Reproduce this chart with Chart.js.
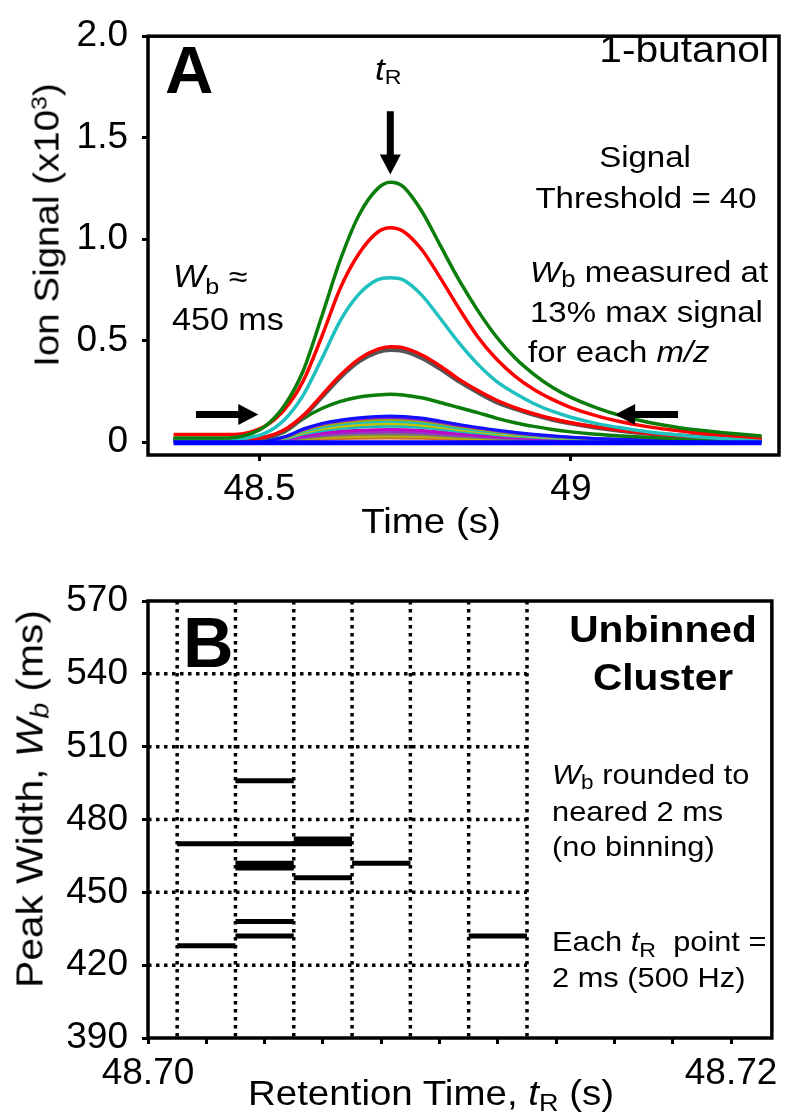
<!DOCTYPE html>
<html><head><meta charset="utf-8">
<script src="https://cdn.jsdelivr.net/npm/chart.js@4.4.1/dist/chart.umd.min.js"></script>
<style>
html,body{margin:0;padding:0;background:#fff;}
body{width:786px;height:1118px;position:relative;overflow:hidden;font-family:"Liberation Sans",Arial,sans-serif;color:#000;}
.box{position:absolute;left:0;width:786px;}
.t{position:absolute;white-space:nowrap;line-height:1;}
.sb{line-height:0;}
</style></head><body>
<div class="box" style="top:0;height:545px"><canvas id="ca"></canvas></div>
<div class="box" style="top:560px;height:558px"><canvas id="cb"></canvas></div>
<script>
// ---------- Panel A data (Ion signal, x10^3) ----------
const timeA = [48.362, 48.45, 48.48, 48.51, 48.54, 48.57, 48.60, 48.63, 48.66, 48.69, 48.71, 48.73, 48.76, 48.79, 48.82, 48.85, 48.88, 48.91, 48.94, 48.97, 49.00, 49.04, 49.08, 49.12, 49.16, 49.20, 49.25, 49.306];
const greenTop = [0.02, 0.02, 0.035, 0.08, 0.18, 0.35, 0.62, 0.90, 1.12, 1.25, 1.28, 1.26, 1.14, 0.97, 0.80, 0.65, 0.52, 0.415, 0.335, 0.27, 0.22, 0.17, 0.13, 0.10, 0.078, 0.06, 0.045, 0.03];
const redTop = [0.037, 0.037, 0.045, 0.08, 0.16, 0.30, 0.52, 0.76, 0.93, 1.035, 1.056, 1.04, 0.95, 0.81, 0.66, 0.52, 0.41, 0.325, 0.26, 0.21, 0.17, 0.13, 0.10, 0.077, 0.06, 0.046, 0.033, 0.02];
const cyanTop = [0.015, 0.015, 0.02, 0.045, 0.11, 0.23, 0.41, 0.60, 0.73, 0.80, 0.81, 0.80, 0.725, 0.61, 0.49, 0.385, 0.30, 0.24, 0.19, 0.152, 0.122, 0.092, 0.07, 0.052, 0.038, 0.027, 0.016, 0.007];
const redMid = [0.015, 0.015, 0.015, 0.025, 0.06, 0.13, 0.23, 0.33, 0.41, 0.458, 0.47, 0.465, 0.43, 0.375, 0.31, 0.255, 0.207, 0.17, 0.14, 0.115, 0.095, 0.075, 0.058, 0.045, 0.035, 0.028, 0.022, 0.018];
const grayMid = [0.012, 0.012, 0.012, 0.022, 0.056, 0.124, 0.222, 0.32, 0.398, 0.444, 0.455, 0.45, 0.416, 0.362, 0.30, 0.246, 0.198, 0.164, 0.135, 0.111, 0.092, 0.072, 0.056, 0.043, 0.034, 0.027, 0.021, 0.017];
const greenMid = [0.015, 0.015, 0.015, 0.02, 0.05, 0.115, 0.165, 0.20, 0.222, 0.232, 0.235, 0.232, 0.218, 0.195, 0.17, 0.145, 0.118, 0.095, 0.077, 0.062, 0.05, 0.038, 0.03, 0.024, 0.019, 0.015, 0.012, 0.01];

const timeSmall = [48.362, 48.51, 48.54, 48.57, 48.60, 48.63, 48.66, 48.71, 48.76, 48.82, 48.88, 48.94, 49.00, 49.10, 49.306];
const blueSmall = [0.005, 0.008, 0.026, 0.064, 0.092, 0.109, 0.12, 0.128, 0.118, 0.087, 0.059, 0.038, 0.024, 0.012, 0.005];
const purpleSmall = [0.005, 0.008, 0.024, 0.06, 0.087, 0.103, 0.114, 0.121, 0.111, 0.082, 0.056, 0.036, 0.023, 0.011, 0.005];
const oliveSmall = [0.005, 0.007, 0.022, 0.056, 0.081, 0.095, 0.105, 0.112, 0.103, 0.076, 0.052, 0.034, 0.021, 0.01, 0.004];
const cyanSmall = [0.005, 0.007, 0.02, 0.051, 0.073, 0.087, 0.096, 0.102, 0.094, 0.069, 0.047, 0.031, 0.019, 0.009, 0.004];
const yellowSmall = [0.004, 0.006, 0.018, 0.045, 0.065, 0.077, 0.085, 0.09, 0.083, 0.061, 0.041, 0.027, 0.017, 0.008, 0.004];
const cyan2Small = [0.004, 0.006, 0.016, 0.039, 0.056, 0.066, 0.073, 0.078, 0.072, 0.053, 0.036, 0.023, 0.015, 0.007, 0.003];
const magentaSmall = [0.004, 0.005, 0.012, 0.031, 0.045, 0.053, 0.058, 0.062, 0.057, 0.042, 0.029, 0.019, 0.012, 0.006, 0.003];
const purple2Small = [0.003, 0.004, 0.01, 0.025, 0.036, 0.043, 0.047, 0.05, 0.046, 0.034, 0.023, 0.015, 0.01, 0.005, 0.003];
const graySmall = [0.003, 0.004, 0.008, 0.02, 0.029, 0.034, 0.038, 0.04, 0.037, 0.027, 0.018, 0.012, 0.008, 0.004, 0.002];
const olive2Small = [0.002, 0.003, 0.006, 0.015, 0.022, 0.026, 0.028, 0.03, 0.028, 0.02, 0.014, 0.009, 0.006, 0.003, 0.002];
const orangeSmall = [0.002, 0.002, 0.004, 0.01, 0.014, 0.017, 0.019, 0.02, 0.018, 0.014, 0.009, 0.006, 0.004, 0.002, 0.001];

const timeBase = [48.362, 49.306];
const baseLine = [-0.004, -0.004];

const xTicksA = [48.5, 49];
const xTickLabelsA = ["48.5", "49"];
const yTicksA = [0, 0.5, 1.0, 1.5, 2.0];
const yTickLabelsA = ["0", "0.5", "1.0", "1.5", "2.0"];

// ---------- Panel B data (peak width per tR point) ----------
const segStartTR = [48.701, 48.701, 48.703, 48.703, 48.703, 48.703, 48.703, 48.703, 48.705, 48.705, 48.705, 48.707, 48.711];
const segWb      = [428,    470,    496,    470,    462,    460,    438,    432,    472,    470,    456,    462,    432];
const tRStep = 0.002;
const gridXB = [48.701, 48.703, 48.705, 48.707, 48.709, 48.711, 48.713];
const gridYB = [420, 450, 480, 510, 540];
const xTicksB = [48.700, 48.702, 48.704, 48.706, 48.708, 48.710, 48.712, 48.714, 48.716, 48.718, 48.720];
const xTickLabelsB = ["48.70", "", "", "", "", "", "", "", "", "", "48.72"];
const yTicksB = [390, 420, 450, 480, 510, 540, 570];
const yTickLabelsB = ["390", "420", "450", "480", "510", "540", "570"];

// ---------- helpers ----------
const FONT = '"Liberation Sans", Arial, sans-serif';
Chart.defaults.font.family = FONT;
Chart.defaults.color = '#000';

function pts(xs, ys) { return xs.map((x, i) => ({ x: x, y: ys[i] })); }
function lineDS(xs, ys, color, w) {
  return { data: pts(xs, ys), borderColor: color, backgroundColor: color, borderWidth: w,
           pointRadius: 0, fill: false, cubicInterpolationMode: 'monotone' };
}

const framePlugin = {
  id: 'frame',
  afterDraw(chart) {
    const a = chart.chartArea, c = chart.ctx;
    c.save(); c.strokeStyle = '#000'; c.lineWidth = 3.5;
    c.strokeRect(a.left, a.top, a.right - a.left, a.bottom - a.top);
    c.restore();
  }
};

// arrows for panel A: [x1,y1,x2,y2] in data units, arrow head at (x2,y2)
const arrowsA = [
  [48.71, 1.63, 48.71, 1.319],
  [48.398, 0.136, 48.498, 0.136],
  [49.172, 0.136, 49.071, 0.136]
];
const arrowPlugin = {
  id: 'arrows',
  afterDatasetsDraw(chart) {
    const xs = chart.scales.x, ys = chart.scales.y, c = chart.ctx;
    c.save(); c.fillStyle = '#000';
    arrowsA.forEach(a => {
      const x1 = xs.getPixelForValue(a[0]), y1 = ys.getPixelForValue(a[1]);
      const x2 = xs.getPixelForValue(a[2]), y2 = ys.getPixelForValue(a[3]);
      const ang = Math.atan2(y2 - y1, x2 - x1), len = Math.hypot(x2 - x1, y2 - y1);
      const hl = 20, hw = 10.5, sw = 3.5;
      c.save(); c.translate(x1, y1); c.rotate(ang);
      c.beginPath();
      c.moveTo(0, -sw); c.lineTo(len - hl, -sw); c.lineTo(len - hl, -hw); c.lineTo(len, 0);
      c.lineTo(len - hl, hw); c.lineTo(len - hl, sw); c.lineTo(0, sw); c.closePath(); c.fill();
      c.restore();
    });
    c.restore();
  }
};

const dottedGridPlugin = {
  id: 'dottedGrid',
  beforeDatasetsDraw(chart) {
    const xs = chart.scales.x, ys = chart.scales.y, c = chart.ctx, a = chart.chartArea;
    c.save(); c.strokeStyle = '#000'; c.lineWidth = 3.5; c.setLineDash([3.5, 4.5]);
    gridXB.forEach(v => {
      const px = xs.getPixelForValue(v);
      c.beginPath(); c.moveTo(px, a.top); c.lineTo(px, a.bottom); c.stroke();
    });
    const xEnd = xs.getPixelForValue(gridXB[gridXB.length - 1]);
    gridYB.forEach(v => {
      const py = ys.getPixelForValue(v);
      c.beginPath(); c.moveTo(a.left, py); c.lineTo(xEnd, py); c.stroke();
    });
    c.restore();
  }
};

function axis(min, max, ticks, labels, size, fit, pad) {
  return {
    type: 'linear', min: min, max: max,
    afterBuildTicks: s => { s.ticks = ticks.map(v => ({ value: v })); },
    afterFit: fit,
    ticks: { font: { size: size, family: FONT }, color: '#000', padding: pad, autoSkip: false, maxRotation: 0,
             callback: (v, i) => labels[i] },
    grid: { drawOnChartArea: false, drawTicks: true, tickLength: 6, color: '#000', lineWidth: 3 },
    border: { display: false }
  };
}

// ---------- Chart A ----------
const dsA = [
  lineDS(timeBase, baseLine, '#0000ff', 5),
  lineDS(timeA, greenTop, '#0a7d0a', 3.5),
  lineDS(timeA, redTop, '#ff0000', 3.5),
  lineDS(timeA, cyanTop, '#20c0c0', 3.5),
  lineDS(timeA, redMid, '#ff0000', 3.5),
  lineDS(timeA, grayMid, '#555555', 4.5),
  lineDS(timeA, greenMid, '#0a7d0a', 3.5),
  lineDS(timeSmall, blueSmall, '#1010ff', 3),
  lineDS(timeSmall, purpleSmall, '#7a1fd6', 3),
  lineDS(timeSmall, oliveSmall, '#a8a800', 3),
  lineDS(timeSmall, cyanSmall, '#19c2c2', 3),
  lineDS(timeSmall, yellowSmall, '#c9c000', 3),
  lineDS(timeSmall, cyan2Small, '#19b8b8', 3),
  lineDS(timeSmall, magentaSmall, '#c400c4', 3),
  lineDS(timeSmall, purple2Small, '#9b30c8', 3),
  lineDS(timeSmall, graySmall, '#777777', 3),
  lineDS(timeSmall, olive2Small, '#b5b500', 3),
  lineDS(timeSmall, orangeSmall, '#d07030', 3)
];

new Chart(document.getElementById('ca'), {
  type: 'line',
  data: { datasets: dsA },
  options: {
    responsive: true, maintainAspectRatio: false, animation: false, devicePixelRatio: 1,
    layout: { padding: { top: 25, right: 7, left: 0, bottom: 0 } },
    plugins: { legend: { display: false }, tooltip: { enabled: false } },
    scales: {
      x: axis(48.321, 49.334, xTicksA, xTickLabelsA, 37, s => { s.height = 90; }, 7),
      y: axis(-0.064, 2.0, yTicksA, yTickLabelsA, 37, s => { s.width = 148; }, 14)
    }
  },
  plugins: [framePlugin, arrowPlugin]
});

// ---------- Chart B ----------
const segData = [];
segStartTR.forEach((t, i) => {
  segData.push({ x: t, y: segWb[i] });
  segData.push({ x: +(t + tRStep).toFixed(4), y: segWb[i] });
  segData.push({ x: +(t + tRStep).toFixed(4), y: null });
});

new Chart(document.getElementById('cb'), {
  type: 'line',
  data: { datasets: [{ data: segData, borderColor: '#000', borderWidth: 5, pointRadius: 0, spanGaps: false,
                       tension: 0, borderCapStyle: 'butt', fill: false }] },
  options: {
    responsive: true, maintainAspectRatio: false, animation: false, devicePixelRatio: 1,
    layout: { padding: { top: 41, right: 10, left: 0, bottom: 0 } },
    plugins: { legend: { display: false }, tooltip: { enabled: false } },
    scales: {
      x: axis(48.700, 48.7214, xTicksB, xTickLabelsB, 37, s => { s.height = 80; }, 8),
      y: axis(390, 570, yTicksB, yTickLabelsB, 37, s => { s.width = 148; }, 14)
    }
  },
  plugins: [dottedGridPlugin, framePlugin]
});

// ---------- text overlays ----------
const SX = 1.1;
function txt(html, x, base, size, align, opt) {
  opt = opt || {};
  const d = document.createElement('div');
  d.className = 't'; d.innerHTML = html;
  d.style.fontSize = size + 'px';
  if (opt.bold) d.style.fontWeight = 'bold';
  d.style.left = x + 'px';
  d.style.top = (base - 0.8465 * size) + 'px';
  const sx = opt.noScale ? 1 : SX;
  if (align === 'center') { d.style.transformOrigin = '50% 50%'; d.style.transform = 'translateX(-50%) scaleX(' + sx + ')'; }
  else if (align === 'right') { d.style.transformOrigin = '100% 50%'; d.style.transform = 'translateX(-100%) scaleX(' + sx + ')'; }
  else { d.style.transformOrigin = '0 50%'; d.style.transform = 'scaleX(' + sx + ')'; }
  document.body.appendChild(d);
}
function rot(html, cx, cy, size) {
  const d = document.createElement('div');
  d.className = 't'; d.innerHTML = html;
  d.style.fontSize = size + 'px';
  d.style.left = cx + 'px'; d.style.top = cy + 'px';
  d.style.transformOrigin = '50% 50%';
  d.style.transform = 'translate(-50%,-50%) rotate(-90deg) scaleX(' + SX + ')';
  document.body.appendChild(d);
}
const sub = (s, f, v) => '<span class="sb" style="font-size:' + f + 'em;vertical-align:' + v + 'em">' + s + '</span>';

// Panel A
txt('A', 165, 93, 67, 'left', { bold: true, noScale: true });
txt('1-butanol', 769, 62, 37, 'right');
txt('<i>t</i>' + sub('R', 0.66, -0.18), 375, 80, 32, 'left');
txt('Signal', 645, 167, 30, 'center');
txt('Threshold = 40', 646, 208, 30, 'center');
txt('<i>W</i>' + sub('b', 0.78, -0.2) + ' measured at', 530, 282, 30, 'left');
txt('13% max signal', 530, 322, 30, 'left');
txt('for each <i>m/z</i>', 528, 362, 30, 'left');
txt('<i>W</i>' + sub('b', 0.74, -0.3) + ' ≈', 173, 287, 31, 'left');
txt('450 ms', 172, 330, 31, 'left');
txt('Time (s)', 431, 533, 35, 'center');
rot('Ion Signal (x10' + '<span class="sb" style="font-size:0.65em;vertical-align:0.55em">3</span>)', 46, 225, 35);

// Panel B
txt('B', 183, 667, 70, 'left', { bold: true, noScale: true });
txt('Unbinned', 663, 642, 37, 'center', { bold: true });
txt('Cluster', 663, 690, 37, 'center', { bold: true });
txt('<i>W</i>' + sub('b', 0.73, -0.25) + ' rounded to', 552, 785, 28, 'left');
txt('neared 2 ms', 552, 822, 28, 'left');
txt('(no binning)', 552, 857, 28, 'left');
txt('Each <i>t</i>' + sub('R', 0.75, -0.29) + '&nbsp; point =', 552, 952, 28, 'left');
txt('2 ms (500 Hz)', 552, 988, 28, 'left');
txt('Retention Time, <i>t</i>' + sub('R', 0.7, -0.25) + ' (s)', 431, 1105, 35, 'center');
rot('Peak Width, <i>W</i>' + sub('<i>b</i>', 0.7, -0.25) + ' (ms)', 30, 799, 37);
</script>
</body></html>
